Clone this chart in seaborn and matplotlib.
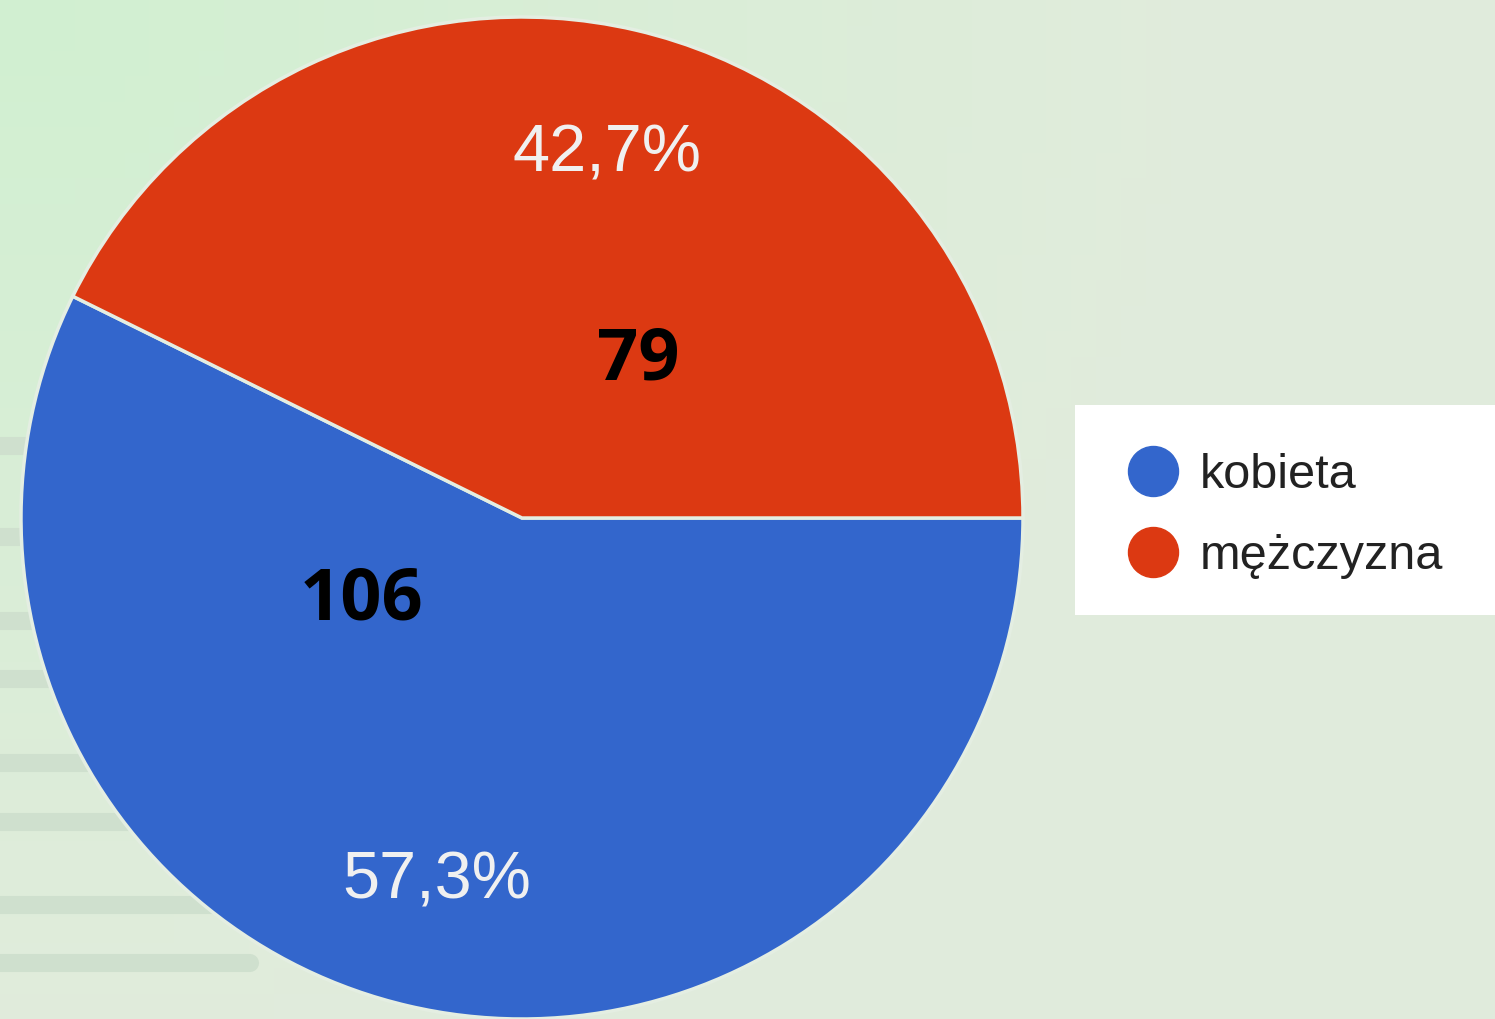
import numpy as np
import matplotlib
matplotlib.use("Agg")
import matplotlib.pyplot as plt
from matplotlib.lines import Line2D
from matplotlib.patches import Rectangle
import seaborn as sns

# ---- data ----
categories = ["kobieta", "mężczyzna"]
counts = [106, 79]
colors = ["#3366cc", "#dc3912"]

sns.set_style("white")
plt.rcParams["font.family"] = ["Liberation Sans", "DejaVu Sans"]

W, H = 1495, 1019
fig = plt.figure(figsize=(W / 100, H / 100), dpi=100)
fig.patch.set_facecolor("#e1ecdc")
ax = fig.add_axes([0, 0, 1, 1])
ax.set_facecolor("#e1ecdc")

# subtle greenish gradient background (top-left)
gx, gy = np.meshgrid(np.linspace(0, 1, 60), np.linspace(0, 1, 40))
d = np.clip(np.sqrt((gx) ** 2 + (1 - gy) ** 2 * 0.6) / 0.8, 0, 1)
c1 = np.array([0.82, 0.94, 0.82])
c2 = np.array([0.882, 0.925, 0.863])
img = c1[None, None, :] * (1 - d[..., None]) + c2[None, None, :] * d[..., None]
ax.imshow(img, extent=[0, W, 0, H], origin="lower", aspect="auto", zorder=0)

# decorative faint bands on the left
band_y = [446, 537, 621, 679, 763, 822, 905, 963]
for by in band_y:
    ax.plot([-20, 250 if by == 963 else 500], [H - by, H - by], color="#cfe0ce",
            lw=13, solid_capstyle="round", zorder=1)

cx, cy, r = 522, H - 518, 501
wedges, texts, autotexts = ax.pie(
    counts, colors=colors, startangle=0, counterclock=False,
    center=(cx, cy), radius=r, labels=None,
    autopct=lambda p: f"{p:.1f}".replace(".", ",") + "%",
    pctdistance=0.745,
    wedgeprops=dict(edgecolor="#e4eee2", linewidth=2.5),
    textprops=dict(color="#f0f0f0", fontsize=48, family="Liberation Sans"),
)
for w in wedges:
    w.set_zorder(2)
for t in autotexts:
    t.set_zorder(3)

# count annotations
count_pos = [(-160, -82), (116, 158)]
for n, (dx, dy) in zip(counts, count_pos):
    ax.text(cx + dx, cy + dy, str(n), ha="center", va="center",
            fontsize=52, fontweight="bold", family="Open Sans", color="black", zorder=4)

ax.set_xlim(0, W)
ax.set_ylim(0, H)
ax.set_aspect("auto")
ax.axis("off")

# white legend panel (runs to the right edge)
ax.add_patch(Rectangle((1075 / W, 1 - 615 / H), (W - 1075) / W, 210 / H,
                       transform=fig.transFigure, facecolor="white",
                       edgecolor="none", zorder=5, clip_on=False))

handles = [Line2D([0], [0], marker="o", color="none", markerfacecolor=c,
                  markeredgecolor=c, markersize=36) for c in colors]
leg = ax.legend(handles, categories, loc="upper left",
                bbox_to_anchor=(1075 / W, 1 - 410 / H), bbox_transform=fig.transFigure,
                frameon=False, borderpad=0.88, handlelength=1.44, handletextpad=0.24,
                labelspacing=0.75, borderaxespad=0,
                prop=dict(family="Liberation Sans", size=35))
leg.set_zorder(6)
for t in leg.get_texts():
    t.set_color("#222222")

fig.savefig("out.png", dpi=100, facecolor=fig.get_facecolor())
